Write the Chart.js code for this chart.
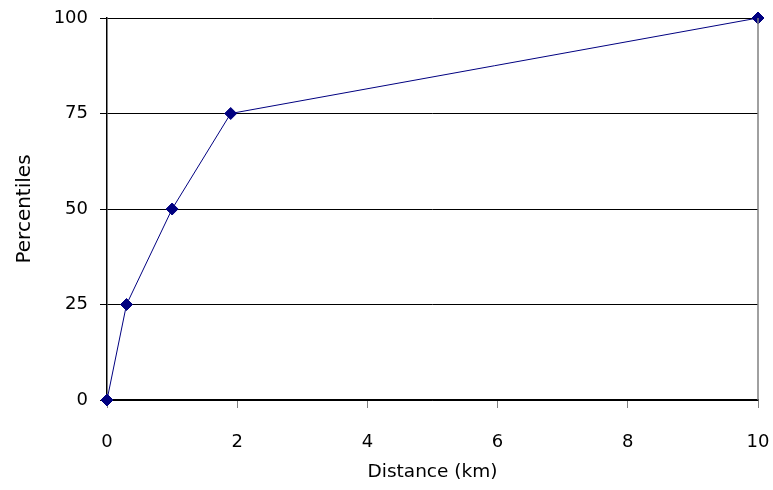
<!DOCTYPE html>
<html><head><meta charset="utf-8">
<script src="https://cdn.jsdelivr.net/npm/chart.js@4/dist/chart.umd.min.js"></script>
<style>html,body{margin:0;padding:0;background:#fff}#wrap{width:773px;height:490px}</style>
</head><body><div id="wrap"><canvas id="c" width="773" height="490"></canvas></div>
<script>
const distanceKm = [0, 0.3, 1.0, 1.9, 10];
const percentiles = [0, 25, 50, 75, 100];
const xTicks = [0, 2, 4, 6, 8, 10];
const yTicks = [0, 25, 50, 75, 100];
const xTitle = 'Distance (km)';
const yTitle = 'Percentiles';

const FONT = '"Comic Sans MS", "DejaVu Sans", sans-serif';
const frame = {
  id: 'frame',
  afterDraw(chart) {
    const {ctx, chartArea: a} = chart;
    ctx.save();
    ctx.strokeStyle = '#808080';
    ctx.lineWidth = 1.5;
    ctx.beginPath();
    ctx.moveTo(a.right, a.top);
    ctx.lineTo(a.right, a.bottom);
    ctx.stroke();
    ctx.restore();
  }
};

new Chart(document.getElementById('c'), {
  type: 'scatter',
  data: {
    datasets: [{
      data: distanceKm.map((x, i) => ({x, y: percentiles[i]})),
      showLine: true,
      borderColor: '#000080',
      borderWidth: 1,
      backgroundColor: '#000080',
      pointStyle: 'rectRot',
      pointRadius: 6,
      pointHoverRadius: 6,
      clip: false
    }]
  },
  options: {
    responsive: false,
    animation: false,
    events: [],
    layout: {padding: 0, autoPadding: false},
    plugins: {legend: {display: false}, tooltip: {enabled: false}},
    scales: {
      x: {
        type: 'linear', min: 0, max: 10,
        afterBuildTicks: s => { s.ticks = xTicks.map(v => ({value: v})); },
        afterFit: s => { s.height = 90; s.paddingLeft = 0; s.paddingRight = 15; },
        grid: {drawOnChartArea: false, drawTicks: true, tickLength: 8, color: '#808080', lineWidth: 1},
        border: {color: '#000', width: 1.5},
        ticks: {color: '#000', font: {family: FONT, size: 18}, padding: 24, maxRotation: 0},
        title: {display: true, text: xTitle, color: '#000', font: {family: FONT, size: 18.5}, padding: {top: 0, bottom: 7}}
      },
      y: {
        type: 'linear', min: 0, max: 100,
        afterBuildTicks: s => { s.ticks = yTicks.map(v => ({value: v})); },
        afterFit: s => { s.width = 107; s.paddingTop = 18; s.paddingBottom = 0; },
        grid: {color: '#000', lineWidth: 1, tickLength: 7, drawTicks: true},
        border: {color: '#000', width: 1.5},
        ticks: {color: '#000', font: {family: FONT, size: 18}, padding: 12},
        title: {display: true, text: yTitle, color: '#000', font: {family: FONT, size: 20}, padding: {top: 13, bottom: 0}}
      }
    }
  },
  plugins: [frame]
});
</script></body></html>
